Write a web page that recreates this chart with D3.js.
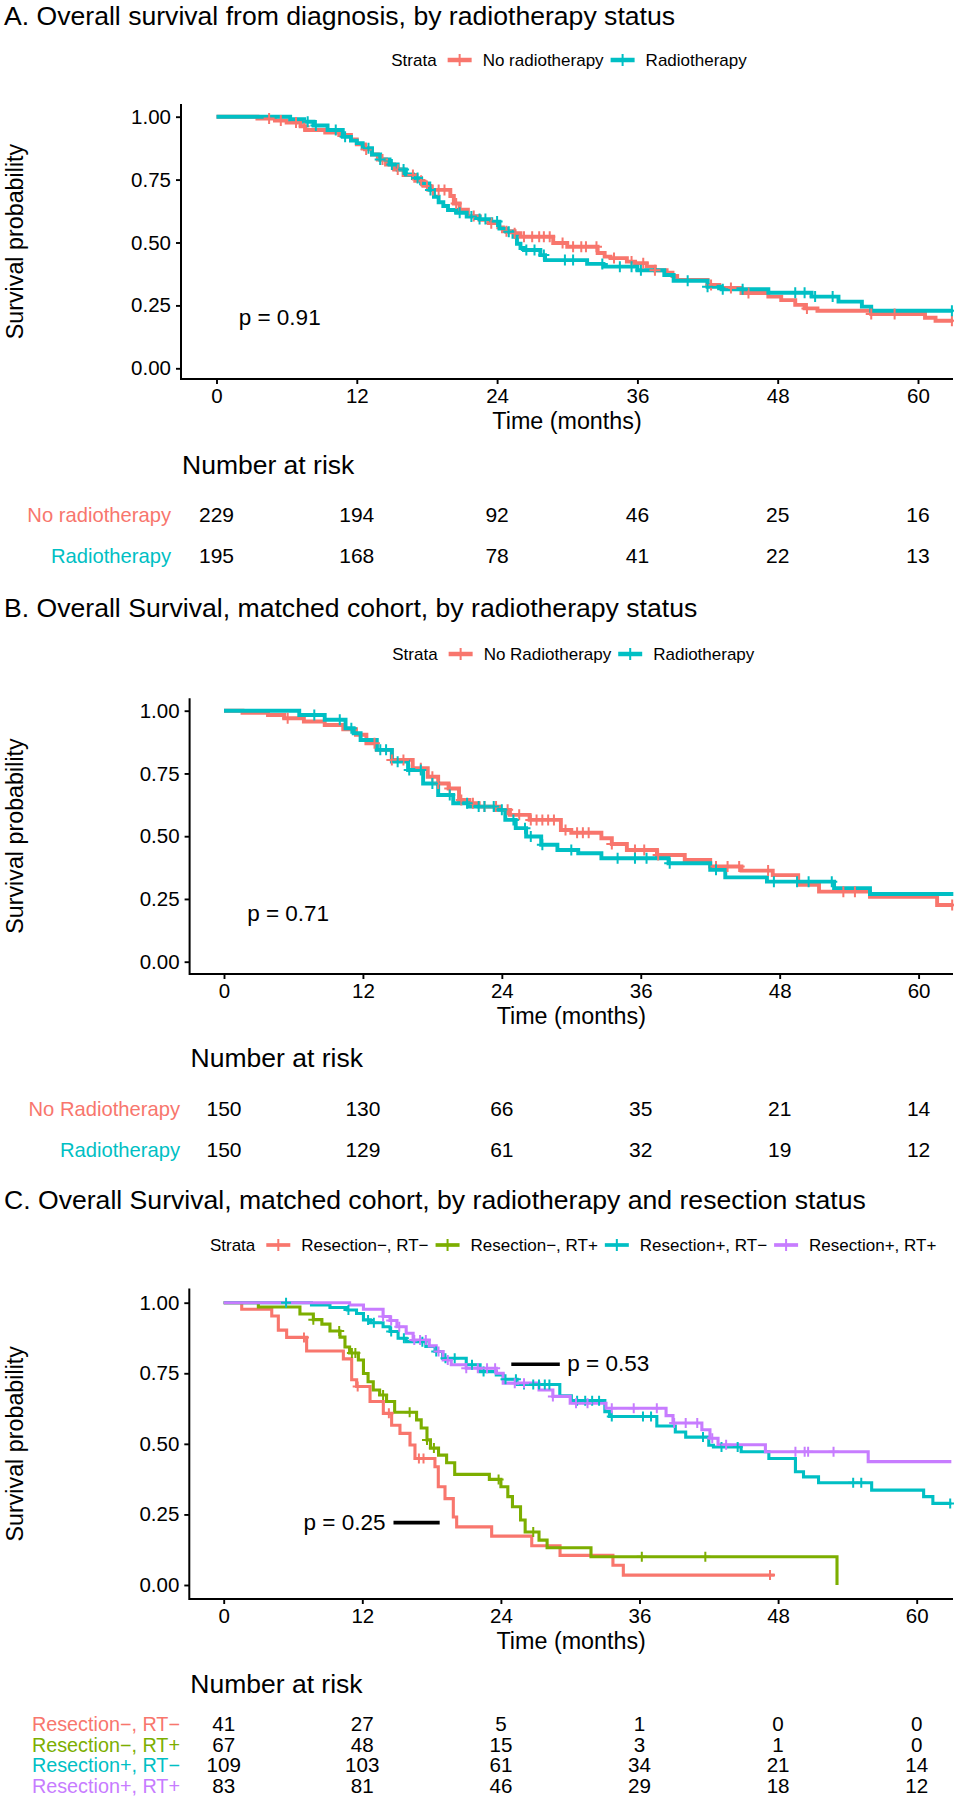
<!DOCTYPE html>
<html><head><meta charset="utf-8">
<script src="https://cdn.jsdelivr.net/npm/d3@7"></script>
<style>
body{margin:0;background:#fff}
svg{display:block}
text{font-family:"Liberation Sans",Arial,Helvetica,sans-serif;fill:#000}
</style>
</head><body>
<svg id="fig" width="954" height="1800"></svg>
<script>
// ---------------- shared ticks ----------------
const monthTicks = [0, 12, 24, 36, 48, 60];
const survTicks = [0, 0.25, 0.5, 0.75, 1];

// ---------------- Panel A ----------------
const aTitle = "A. Overall survival from diagnosis, by radiotherapy status";
const aGroups = ["No radiotherapy", "Radiotherapy"];
const aNoRtSurv = [[0,1],[3.5,0.993],[5,0.985],[6,0.977],[7.2,0.962],[7.6,0.947],[9.3,0.937],[10.5,0.927],[11.5,0.91],[12,0.89],[12.7,0.87],[13.3,0.85],[13.8,0.83],[14.5,0.81],[15.2,0.79],[16,0.768],[17,0.745],[17.7,0.725],[18.3,0.709],[20,0.685],[20.3,0.655],[20.8,0.63],[21.5,0.605],[22.5,0.59],[23.3,0.577],[24.1,0.56],[24.5,0.545],[25.5,0.537],[26,0.523],[28.8,0.498],[30,0.483],[32.6,0.458],[33.2,0.444],[33.7,0.438],[35.1,0.424],[35.8,0.418],[36.8,0.404],[37.5,0.39],[38.5,0.38],[39,0.367],[39.4,0.351],[42,0.331],[43,0.319],[44.9,0.299],[47.2,0.285],[48.3,0.271],[49.5,0.252],[50.3,0.238],[51.4,0.229],[56,0.216],[60.6,0.201],[61.5,0.189]];
const aRtSurv = [[0,1],[6.3,0.99],[7.5,0.98],[8.3,0.965],[9.5,0.947],[10.8,0.92],[11.5,0.905],[12,0.895],[12.5,0.875],[13.3,0.85],[14,0.83],[14.8,0.81],[15.5,0.79],[16.2,0.77],[16.8,0.756],[17.5,0.735],[18.2,0.709],[18.6,0.682],[19,0.66],[19.4,0.645],[19.8,0.629],[20.5,0.618],[21.4,0.603],[22.5,0.593],[23.5,0.583],[24.2,0.555],[24.8,0.543],[25.4,0.523],[25.7,0.495],[26,0.478],[26.3,0.47],[27.7,0.45],[28.1,0.43],[31.7,0.415],[33.1,0.404],[36,0.39],[38.3,0.371],[39.1,0.348],[42,0.324],[43.2,0.314],[47.2,0.3],[50.9,0.285],[53.2,0.265],[55.2,0.245],[56,0.229]];
const aNoRtEnd = 63, aRtEnd = 63;
const aNoRtCensor = [4.5,5.5,6.8,7.5,12.8,14.2,15.5,16.8,17.5,18,18.5,19,19.5,20.5,22,23.5,24.8,25.5,26.3,27,27.6,28,28.5,29.6,30.5,31.2,31.6,32.5,34,35.5,36.5,37.5,42.3,44,45.5,50.5,56,58,62.9];
const aRtCensor = [7.8,8.5,10.2,11,13,14,15,16,17.2,18.3,20.8,21.8,22.5,23,24,25,26.5,27.2,28,29.8,30.5,33,34.5,35.5,36.3,40.3,42,43.3,45,49.5,50.3,51.2,52.7,62.9];
const aRiskNoRt = [229, 194, 92, 46, 25, 16];
const aRiskRt = [195, 168, 78, 41, 22, 13];
const aPLabel = "p = 0.91";

// ---------------- Panel B ----------------
const bTitle = "B. Overall Survival, matched cohort, by radiotherapy status";
const bGroups = ["No Radiotherapy", "Radiotherapy"];
const bNoRtSurv = [[0,1],[1.6,0.992],[3.8,0.983],[5.2,0.97],[6.9,0.957],[8.7,0.943],[10.3,0.926],[11.4,0.904],[12.3,0.87],[13.2,0.844],[14.5,0.804],[16.3,0.771],[17.6,0.737],[18.5,0.71],[19.4,0.69],[20.3,0.644],[21.2,0.631],[22,0.618],[23.8,0.605],[24.7,0.585],[26.4,0.565],[29.1,0.525],[30,0.514],[32.6,0.492],[33.5,0.469],[34.8,0.445],[37.4,0.425],[39.8,0.405],[42,0.379],[44.7,0.363],[47.4,0.345],[49.6,0.306],[51.4,0.279],[55.8,0.259],[61.6,0.226]];
const bRtSurv = [[0,1],[6.5,0.983],[8.7,0.964],[10.5,0.93],[11.2,0.91],[11.8,0.883],[13.2,0.844],[14.5,0.797],[15.9,0.764],[17.2,0.71],[18.5,0.664],[19.8,0.631],[21.1,0.618],[23.4,0.605],[24.3,0.565],[25.2,0.532],[26.1,0.499],[27.4,0.466],[28.8,0.445],[30.6,0.432],[32.6,0.412],[38.4,0.392],[42,0.366],[43.3,0.336],[46.9,0.319],[52.7,0.293],[55.8,0.27]];
const bNoRtEnd = 63, bRtEnd = 63;
const bNoRtCensor = [5.5,13,14.5,15.5,17,18,18.5,19.5,20.5,21.5,22.5,23.5,24.5,25.5,26.5,27,27.5,28,28.5,29.5,30.5,31,31.5,33.5,35.5,36.3,37.5,42.5,43.5,44.5,47,53.5,54.5,62.9];
const bRtCensor = [7.8,10,11,13.5,14,15,16,17,18,19.5,21,22,22.5,23.3,24,25,26,26.5,27.5,30,34,35.5,36.5,38.5,42.5,47.5,49.5,50.5,52.5];
const bRiskNoRt = [150, 130, 66, 35, 21, 14];
const bRiskRt = [150, 129, 61, 32, 19, 12];
const bPLabel = "p = 0.71";

// ---------------- Panel C ----------------
const cTitle = "C. Overall Survival, matched cohort, by radiotherapy and resection status";
const cGroups = ["Resection\u2212, RT\u2212", "Resection\u2212, RT+", "Resection+, RT\u2212", "Resection+, RT+"];
const cResNoRtNoSurv = [[0,1],[1.56,0.977],[4.16,0.953],[4.73,0.903],[5.45,0.877],[7.18,0.829],[10.36,0.801],[11.08,0.727],[11.51,0.703],[12.67,0.65],[13.82,0.608],[14.54,0.566],[15.26,0.537],[16.13,0.496],[16.56,0.448],[18.29,0.419],[18.58,0.348],[19.16,0.306],[19.88,0.241],[20.17,0.206],[23.2,0.173],[26.67,0.139],[29.12,0.105],[33.7,0.07],[34.6,0.035]];
const cResNoRtYesSurv = [[0,1],[3.0,0.985],[6.6,0.96],[7.76,0.94],[8.5,0.924],[9.2,0.9],[10.07,0.878],[10.5,0.843],[10.9,0.822],[11.66,0.797],[12.1,0.749],[12.5,0.72],[12.95,0.691],[13.5,0.673],[14.1,0.65],[14.8,0.612],[16.7,0.585],[17.1,0.556],[17.6,0.514],[17.9,0.485],[18.6,0.46],[19.3,0.433],[20.0,0.392],[23.0,0.374],[24.0,0.348],[24.6,0.313],[25.0,0.277],[25.7,0.23],[26.1,0.188],[27.3,0.159],[28.0,0.132],[31.8,0.1],[53.1,0]];
const cResYesRtNoSurv = [[0,1],[7.6,0.992],[9.2,0.983],[10.7,0.974],[11.5,0.962],[12.1,0.939],[12.7,0.929],[13.8,0.915],[14.4,0.898],[15.1,0.874],[15.8,0.862],[17.5,0.845],[18.3,0.827],[18.95,0.803],[21,0.78],[22.2,0.756],[23.6,0.744],[24.2,0.729],[25.4,0.71],[29.1,0.67],[30.1,0.653],[33,0.614],[33.4,0.597],[37.5,0.563],[39.1,0.542],[40,0.524],[42,0.495],[42.4,0.489],[44.8,0.472],[47.2,0.448],[49.5,0.401],[50.2,0.383],[51.5,0.362],[56.1,0.336],[60.6,0.313],[61.4,0.289]];
const cResYesRtYesSurv = [[0,1],[10.9,0.992],[12.1,0.977],[13.8,0.951],[14.4,0.937],[15,0.915],[15.8,0.892],[16.4,0.868],[17.8,0.847],[18.4,0.827],[19,0.797],[19.7,0.78],[21,0.768],[23.6,0.75],[24.2,0.715],[27.3,0.691],[28.5,0.668],[30,0.644],[33.1,0.626],[38.3,0.6],[38.9,0.574],[41.4,0.55],[42.1,0.52],[42.8,0.497],[46.9,0.472],[55.8,0.437]];
const cEnds = [47.7, 53.1, 63, 63];
const cResNoRtNoCensor = [6.95,11.6,14.3,16.9,17.3,47.3];
const cResNoRtYesCensor = [7.76,10.0,11.1,11.4,13.8,16.1,17.6,18.2,23.8,26.8,36.2,41.7];
const cResYesRtNoCensor = [5.4,10.8,12.5,13,14.5,15.6,17.2,18.4,19.2,20,21.5,22.5,24.4,25.3,26,26.8,27.3,27.8,28.2,30.6,31.3,31.9,32.5,33.6,36.3,37,41.5,43.1,44.5,54.5,55.2,62.9];
const cResYesRtYesCensor = [13.8,14.5,15.2,16.5,17,17.5,18.6,19.4,21,22,22.8,23.5,25.2,26,28.5,30.5,31.5,33.6,35.5,37.5,39,40,41,42.3,43.5,49.5,50.3,50.6,52.8];
const cRisk = [[41,27,5,1,0,0],[67,48,15,3,1,0],[109,103,61,34,21,14],[83,81,46,29,18,12]];
const cPLabels = ["p = 0.53", "p = 0.25"];
const cPLineFrom = [24.9, 14.7];
const cPLineTo = [29.1, 18.7];
const cPLineSurv = [0.782, 0.221];

// ---------------- drawing ----------------
const hue2 = ["#F8766D", "#00BFC4"];
const hue4 = ["#F8766D", "#7CAE00", "#00BFC4", "#C77CFF"];
const svg = d3.select("#fig");
const RIGHT = 953;
const FONT = {title: 26.6, legend: 17, tick: 20.5, axisTitle: 23.3, p: 22.5, riskTitle: 26.5};

function survAt(steps, t) {
  const i = d3.bisector(d => d[0]).right(steps, t) - 1;
  return steps[Math.max(0, i)][1];
}

function drawPanel(P) {
  const g = svg.append("g");
  g.append("text").attr("x", 4).attr("y", P.titleY).attr("font-size", FONT.title).text(P.title);

  const xd = d3.scaleLinear().domain([0, 60]).range([P.x0, P.x60]);
  const x = d3.scaleLinear().domain([xd.invert(P.axisX), xd.invert(RIGHT)]).range([P.axisX, RIGHT]);
  const y = d3.scaleLinear().domain([0, 1]).range([P.ys0, P.ys1]);
  const yTop = y(1.05);

  // legend
  const lg = g.append("g");
  const st = lg.append("text").attr("x", 0).attr("y", P.legendY).attr("dy", "0.35em")
    .attr("font-size", FONT.legend).text("Strata");
  let cx = st.node().getComputedTextLength() + 11;
  P.groups.forEach((grp, i) => {
    lg.append("line").attr("x1", cx).attr("x2", cx + 24).attr("y1", P.legendY).attr("y2", P.legendY)
      .attr("stroke", P.colors[i]).attr("stroke-width", P.lw + 0.6);
    lg.append("path").attr("d", `M${cx + 12},${P.legendY - 6}V${P.legendY + 6}M${cx + 6},${P.legendY}H${cx + 18}`)
      .attr("stroke", P.colors[i]).attr("stroke-width", 2).attr("fill", "none");
    cx += 24 + 11;
    const lt = lg.append("text").attr("x", cx).attr("y", P.legendY).attr("dy", "0.35em")
      .attr("font-size", FONT.legend).text(grp);
    cx += lt.node().getComputedTextLength() + 7;
  });
  const total = cx - 7;
  lg.attr("transform", `translate(${(P.axisX + RIGHT) / 2 + 2 - total / 2},0)`);

  // clip
  const cid = "clip" + P.id;
  g.append("clipPath").attr("id", cid).append("rect")
    .attr("x", P.axisX).attr("y", yTop - 10).attr("width", RIGHT - P.axisX + 1).attr("height", P.xAxisY - yTop + 10);
  const plot = g.append("g").attr("clip-path", `url(#${cid})`);

  const line = d3.line().curve(d3.curveStepAfter).x(d => x(d[0])).y(d => y(d[1]));
  P.series.forEach((s, i) => {
    const pts = s.concat([[P.ends[i], s[s.length - 1][1]]]);
    plot.append("path").attr("d", line(pts)).attr("fill", "none")
      .attr("stroke", P.colors[i]).attr("stroke-width", P.lw).attr("stroke-linejoin", "miter");
  });
  P.censors.forEach((cs, i) => {
    plot.selectAll(null).data(cs).join("path")
      .attr("d", t => {
        const px = x(t), py = y(survAt(P.series[i], t));
        return `M${px - P.cs},${py}H${px + P.cs}M${px},${py - P.cs}V${py + P.cs}`;
      })
      .attr("stroke", P.colors[i]).attr("stroke-width", 2).attr("fill", "none");
  });

  // axes
  const ax = g.append("g").attr("transform", `translate(0,${P.xAxisY})`)
    .call(d3.axisBottom(x).tickValues(monthTicks).tickSize(5).tickPadding(4.5).tickSizeOuter(0));
  const ay = g.append("g").attr("transform", `translate(${P.axisX},0)`)
    .call(d3.axisLeft(y).tickValues(survTicks).tickFormat(d3.format(".2f")).tickSize(5).tickPadding(5).tickSizeOuter(0));
  [ax, ay].forEach(a => {
    a.select(".domain").remove();
    a.selectAll(".tick line").attr("stroke", "#000").attr("stroke-width", 1.9);
    a.selectAll(".tick text").attr("font-size", FONT.tick).attr("font-family", null).attr("fill", "#000");
  });
  g.append("path").attr("d", `M${P.axisX},${yTop}V${P.xAxisY}H${RIGHT}`)
    .attr("fill", "none").attr("stroke", "#000").attr("stroke-width", 2);

  g.append("text").attr("x", (P.axisX + RIGHT) / 2).attr("y", P.xAxisY + 50).attr("text-anchor", "middle")
    .attr("font-size", FONT.axisTitle).text("Time (months)");
  g.append("text").attr("transform", `translate(23,${(yTop + P.xAxisY) / 2}) rotate(-90)`)
    .attr("text-anchor", "middle").attr("font-size", FONT.axisTitle).text("Survival probability");

  // p-values
  P.pvals.forEach(pv => {
    if (pv.line) {
      g.append("line").attr("x1", x(pv.line[0])).attr("x2", x(pv.line[1]))
        .attr("y1", y(pv.line[2])).attr("y2", y(pv.line[2])).attr("stroke", "#000").attr("stroke-width", 3.6);
    }
    g.append("text").attr("x", pv.anchor === "end" ? x(pv.line[0]) - 8 : (pv.line ? x(pv.line[1]) + 7.5 : x(pv.t)))
      .attr("y", y(pv.s)).attr("dy", "0.32em").attr("text-anchor", pv.anchor || "start")
      .attr("font-size", FONT.p).text(pv.label);
  });

  // risk table
  g.append("text").attr("x", P.axisX + 1).attr("y", P.riskTitleY).attr("font-size", FONT.riskTitle).text("Number at risk");
  P.risk.forEach((row, i) => {
    g.append("text").attr("x", P.riskLabelRight).attr("y", P.riskRowY[i]).attr("text-anchor", "end")
      .attr("font-size", P.riskFont).style("fill", P.colors[i]).text(P.groups[i]);
    g.selectAll(null).data(row).join("text")
      .attr("x", (d, j) => x(monthTicks[j])).attr("y", P.riskRowY[i]).attr("text-anchor", "middle")
      .attr("font-size", P.riskFont + 0.8).text(d => d);
  });
}

drawPanel({
  id: "A", title: aTitle, titleY: 25, legendY: 60,
  axisX: 181, x0: 216.5, x60: 918, ys0: 368.3, ys1: 116.7, xAxisY: 379,
  groups: aGroups, colors: hue2, lw: 3.9, cs: 5.5,
  series: [aNoRtSurv, aRtSurv], ends: [aNoRtEnd, aRtEnd], censors: [aNoRtCensor, aRtCensor],
  pvals: [{label: aPLabel, t: 1.9, s: 0.2}],
  risk: [aRiskNoRt, aRiskRt], riskTitleY: 474, riskRowY: [522, 563], riskLabelRight: 171, riskFont: 20.2
});

drawPanel({
  id: "B", title: bTitle, titleY: 617, legendY: 654,
  axisX: 189.6, x0: 224, x60: 918.6, ys0: 961.7, ys1: 710.7, xAxisY: 974,
  groups: bGroups, colors: hue2, lw: 3.9, cs: 5.5,
  series: [bNoRtSurv, bRtSurv], ends: [bNoRtEnd, bRtEnd], censors: [bNoRtCensor, bRtCensor],
  pvals: [{label: bPLabel, t: 2.0, s: 0.19}],
  risk: [bRiskNoRt, bRiskRt], riskTitleY: 1067, riskRowY: [1116, 1157], riskLabelRight: 180, riskFont: 20.2
});

drawPanel({
  id: "C", title: cTitle, titleY: 1209, legendY: 1245,
  axisX: 189.3, x0: 223.7, x60: 916.7, ys0: 1585, ys1: 1302.7, xAxisY: 1599,
  groups: cGroups, colors: hue4, lw: 3.1, cs: 5,
  series: [cResNoRtNoSurv, cResNoRtYesSurv, cResYesRtNoSurv, cResYesRtYesSurv], ends: cEnds,
  censors: [cResNoRtNoCensor, cResNoRtYesCensor, cResYesRtNoCensor, cResYesRtYesCensor],
  pvals: [
    {label: cPLabels[0], line: [cPLineFrom[0], cPLineTo[0], cPLineSurv[0]], s: cPLineSurv[0]},
    {label: cPLabels[1], line: [cPLineFrom[1], cPLineTo[1], cPLineSurv[1]], s: cPLineSurv[1], anchor: "end"}
  ],
  risk: cRisk, riskTitleY: 1693, riskRowY: [1731, 1752, 1772, 1793], riskLabelRight: 180, riskFont: 19.8
});
</script>
</body></html>
